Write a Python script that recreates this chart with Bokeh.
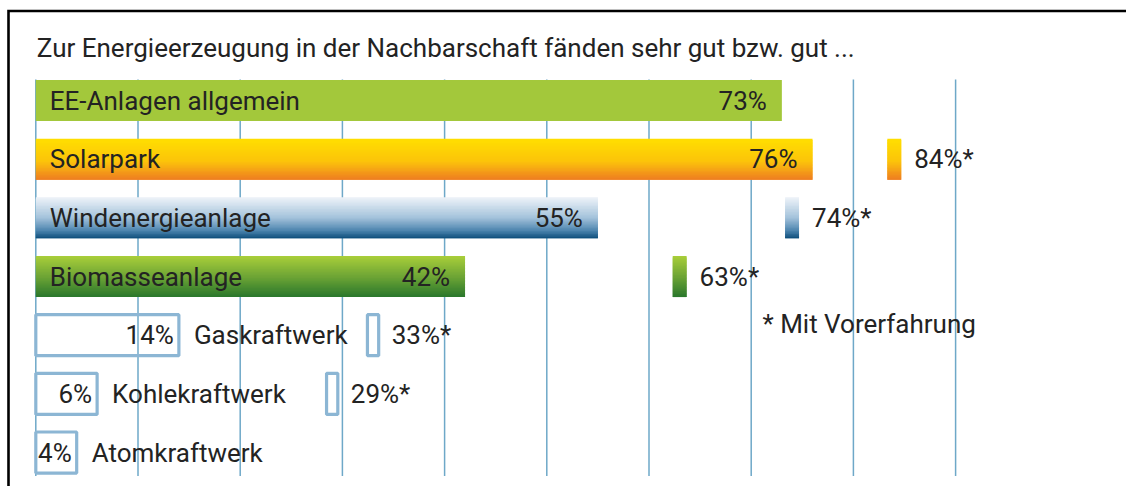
from bokeh.plotting import figure
from bokeh.models import Range1d, ColumnDataSource
from bokeh.embed import file_html
from bokeh.resources import INLINE
from bokeh.core.properties import value

# ---------------- data ----------------
title_text = "Zur Energieerzeugung in der Nachbarschaft fänden sehr gut bzw. gut ..."
categories = ["EE-Anlagen allgemein", "Solarpark", "Windenergieanlage",
              "Biomasseanlage", "Gaskraftwerk", "Kohlekraftwerk", "Atomkraftwerk"]
share_all = [73, 76, 55, 42, 14, 6, 4]                   # % sehr gut / gut
share_experienced = [None, 84, 74, 63, 33, 29, None]     # % mit Vorerfahrung
grid_values = [0, 10, 20, 30, 40, 50, 60, 70, 80, 90]
footnote_text = "* Mit Vorerfahrung"

# ---------------- style ----------------
W, H = 1126, 486
X0_PX, PX_PER_PCT = 35.3, 10.22
ROW0_PX, ROW_STEP_PX = 100.0, 58.67
HALF_BAR = 0.35
FONT = "Roboto"
FONT_SIZE = "26px"
TEXT_COLOR = "#232323"
GRID_COLOR = "#6ea8c8"
OUTLINE_COLOR = "#8cb6d4"

styles = [
    ("solid", [(0, "#a3c83b"), (1, "#a3c83b")]),
    ("solid", [(0, "#ffdf00"), (0.55, "#fcc40a"), (1, "#ee7d22")]),
    ("solid", [(0, "#eef3f8"), (0.5, "#a3c2db"), (0.82, "#4a83ad"), (1, "#0b4c79")]),
    ("solid", [(0, "#a9ce3a"), (0.5, "#6ea535"), (1, "#2a772c")]),
    ("outline", None),
    ("outline", None),
    ("outline", None),
]


def px_to_x(px):
    return (px - X0_PX) / PX_PER_PCT


def px_to_y(px):
    return (px - ROW0_PX) / ROW_STEP_PX


def hex_to_rgb(h):
    h = h.lstrip("#")
    return tuple(int(h[i:i + 2], 16) for i in (0, 2, 4))


def color_at(stops, t):
    for (p0, c0), (p1, c1) in zip(stops[:-1], stops[1:]):
        if p0 <= t <= p1:
            f = 0 if p1 == p0 else (t - p0) / (p1 - p0)
            a, b = hex_to_rgb(c0), hex_to_rgb(c1)
            return "#%02x%02x%02x" % tuple(round(a[k] + (b[k] - a[k]) * f) for k in range(3))
    return stops[-1][1]


N_STRIPS = 28

p = figure(width=W, height=H,
           x_range=Range1d(px_to_x(0), px_to_x(W)),
           y_range=Range1d(px_to_y(H), px_to_y(0)),
           x_axis_type=None, y_axis_type=None,
           output_backend="svg", toolbar_location=None,
           min_border=0, outline_line_color=None,
           background_fill_color="white", border_fill_color="white")
p.grid.visible = False

# grid lines
grid_top = -HALF_BAR - 0.01
grid_bottom = len(categories) - 1 + HALF_BAR + 0.05
p.segment(x0=grid_values, x1=grid_values,
          y0=[grid_top] * len(grid_values), y1=[grid_bottom] * len(grid_values),
          line_color=GRID_COLOR, line_width=1.5)

# gradient strips for solid bars and markers (overlapping, drawn top to bottom)
strips = dict(left=[], right=[], top=[], bottom=[], color=[])
MARKER_HALF = 0.68


def add_strips(left, right, row, stops):
    if all(c == stops[0][1] for _, c in stops):
        strips["left"].append(left)
        strips["right"].append(right)
        strips["top"].append(row - HALF_BAR)
        strips["bottom"].append(row + HALF_BAR)
        strips["color"].append(stops[0][1])
        return
    h = 2 * HALF_BAR / N_STRIPS
    for k in range(N_STRIPS):
        t_mid = (k + 0.5) / N_STRIPS
        top = row - HALF_BAR + k * h
        bottom = min(row + HALF_BAR, top + 2 * h)
        strips["left"].append(left)
        strips["right"].append(right)
        strips["top"].append(top)
        strips["bottom"].append(bottom)
        strips["color"].append(color_at(stops, t_mid))


outline = dict(left=[], right=[], top=[], bottom=[])
OUT_MARKER_HALF = 0.55

for i, (cat, v, ve, (kind, stops)) in enumerate(zip(categories, share_all, share_experienced, styles)):
    if kind == "solid":
        add_strips(0, v, i, stops)
        if ve is not None:
            add_strips(ve - MARKER_HALF, ve + MARKER_HALF, i, stops)
    else:
        outline["left"].append(0)
        outline["right"].append(v)
        outline["top"].append(i - HALF_BAR)
        outline["bottom"].append(i + HALF_BAR)
        if ve is not None:
            outline["left"].append(ve - OUT_MARKER_HALF)
            outline["right"].append(ve + OUT_MARKER_HALF)
            outline["top"].append(i - HALF_BAR)
            outline["bottom"].append(i + HALF_BAR)

p.quad(left="left", right="right", top="top", bottom="bottom",
       fill_color="color", line_color=None,
       source=ColumnDataSource(strips))
p.quad(left="left", right="right", top="top", bottom="bottom",
       fill_alpha=0, line_color=OUTLINE_COLOR, line_width=3.2,
       source=ColumnDataSource(outline))

text_kw = dict(text_font=value(FONT), text_font_size=FONT_SIZE,
               text_color=TEXT_COLOR, text_baseline="middle")

rows = list(range(len(categories)))
solid_rows = [i for i in rows if styles[i][0] == "solid"]
out_rows = [i for i in rows if styles[i][0] == "outline"]

# category names inside solid bars
p.text(x=[0] * len(solid_rows), y=solid_rows, text=[categories[i] for i in solid_rows],
       x_offset=14, text_align="left", **text_kw)
# value labels at bar end
p.text(x=[share_all[i] for i in solid_rows], y=solid_rows,
       text=[f"{share_all[i]}%" for i in solid_rows],
       x_offset=-15, text_align="right", **text_kw)
# outline rows: value inside box, category after box
p.text(x=[share_all[i] for i in out_rows], y=out_rows,
       text=[f"{share_all[i]}%" for i in out_rows],
       x_offset=-5, text_align="right", **text_kw)
p.text(x=[share_all[i] for i in out_rows], y=out_rows,
       text=[categories[i] for i in out_rows],
       x_offset=15, text_align="left", **text_kw)

# experienced labels
exp_rows = [i for i in rows if share_experienced[i] is not None]
exp_x = [share_experienced[i] + (MARKER_HALF if styles[i][0] == "solid" else OUT_MARKER_HALF)
         for i in exp_rows]
p.text(x=exp_x, y=exp_rows, text=[f"{share_experienced[i]}%*" for i in exp_rows],
       x_offset=13, text_align="left", **text_kw)

# title
p.text(x=[0], y=[px_to_y(47)], text=[title_text], x_offset=1,
       text_align="left", **text_kw)
# footnote
p.text(x=[px_to_x(762)], y=[px_to_y(323)], text=[footnote_text],
       text_align="left", **text_kw)

# frame (top and left edge visible)
p.line(x=[px_to_x(W + 20), px_to_x(8), px_to_x(8)],
       y=[px_to_y(10.5), px_to_y(10.5), px_to_y(H + 20)],
       line_color="black", line_width=2.6, line_join="miter")

open("out.html", "w").write(file_html(p, INLINE))
